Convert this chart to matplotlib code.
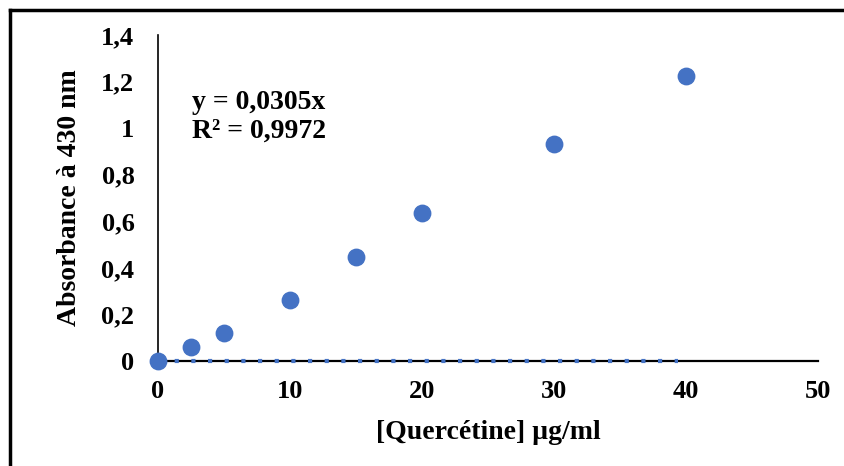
import matplotlib.pyplot as plt
from matplotlib.lines import Line2D
from matplotlib.ticker import FuncFormatter

# --- DATA ---
conc = [0, 2.5, 5, 10, 15, 20, 30, 40]
absorb = [0, 0.06, 0.12, 0.262, 0.446, 0.635, 0.93, 1.222]
trend_x = [0, 39.4]
trend_y = [0, 0]
x_ticks = [0, 10, 20, 30, 40, 50]
y_ticks = [0, 0.2, 0.4, 0.6, 0.8, 1.0, 1.2, 1.4]

BLUE = '#4472C4'
plt.rcParams['font.family'] = ['Liberation Serif', 'DejaVu Serif']
plt.rcParams['font.weight'] = 'bold'

fig = plt.figure(figsize=(8.44, 4.66), dpi=100)
ax = fig.add_axes([158 / 844, 1 - 361 / 466, 660 / 844, 326 / 466])

ax.plot(trend_x, trend_y, linestyle=(0, (1, 3)), color=BLUE, lw=3,
        dash_capstyle='butt', zorder=3, clip_on=False)
ax.scatter(conc, absorb, s=140, color=BLUE, zorder=4, clip_on=False)

ax.set_xlim(0, 50)
ax.set_ylim(0, 1.4)
ax.set_xticks(x_ticks)
ax.set_yticks(y_ticks)

def comma(v, pos):
    s = f"{v:g}"
    return s.replace('.', ',')

ax.yaxis.set_major_formatter(FuncFormatter(comma))
ax.tick_params(length=0, labelsize=19, pad=14)
ax.tick_params(axis='y', pad=17)
for lab in ax.get_xticklabels() + ax.get_yticklabels():
    lab.set_fontweight('bold')

for s in ['top', 'right']:
    ax.spines[s].set_visible(False)
ax.spines['left'].set_linewidth(1.2)
ax.spines['bottom'].set_linewidth(1.6)

ax.set_xlabel('[Quercétine] µg/ml', fontsize=20, fontweight='bold', labelpad=12)
ax.set_ylabel('Absorbance à 430 nm', fontsize=20, fontweight='bold', labelpad=14)

ax.text(2.6, 1.05, 'y = 0,0305x\nR² = 0,9972', fontsize=20, fontweight='bold',
        va='center', ha='left', linespacing=1.2)

# outer frame (left and top edges)
fig.add_artist(Line2D([10 / 844, 10 / 844], [0, 1 - 10 / 466], color='black', lw=2.5))
fig.add_artist(Line2D([10 / 844, 1], [1 - 10 / 466, 1 - 10 / 466], color='black', lw=2.5))

fig.savefig('out.png', dpi=100)
